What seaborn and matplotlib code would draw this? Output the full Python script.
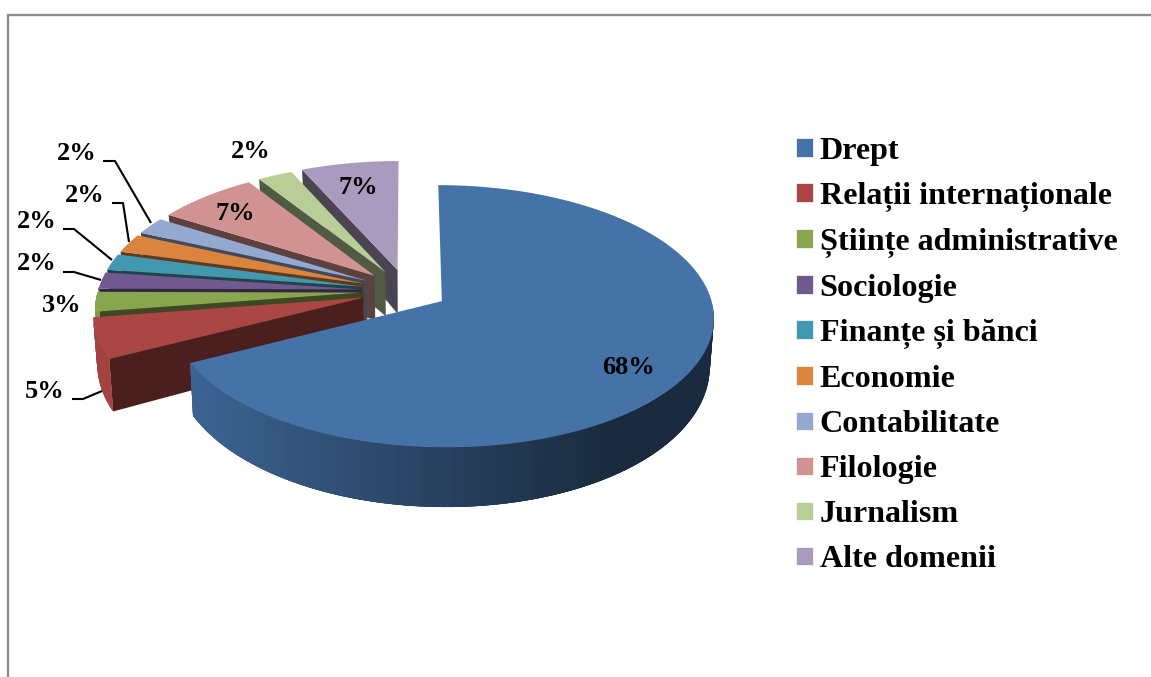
import numpy as np
import matplotlib
matplotlib.use("Agg")
import matplotlib.pyplot as plt
from matplotlib.patches import Patch
import seaborn as sns

# ---- data ----
categories = ["Drept", "Relații internaționale", "Științe administrative", "Sociologie",
              "Finanțe și bănci", "Economie", "Contabilitate", "Filologie", "Jurnalism",
              "Alte domenii"]
shares = [67.5, 5.1, 2.5, 2.1, 2.1, 2.4, 2.2, 7.0, 2.4, 6.7]
percent_labels = [68, 5, 3, 2, 2, 2, 2, 7, 2, 7]
colors_hex = ["#4572A7", "#AA4643", "#89A54E", "#71588F", "#4198AF",
              "#DB843D", "#93A9CF", "#D19392", "#B9CD96", "#A99BBD"]
explosion = [0.15, 0.17, 0.17, 0.17, 0.17, 0.17, 0.17, 0.17, 0.17, 0.17]
radius = [0.99, 0.985, 0.975, 0.975, 0.975, 0.975, 0.975, 0.975, 0.975, 0.98]

# ---- placement of the labels in pixel space ----
label_xy = [(629, 367), (45, 392), (62, 305), (37, 264), (37, 222),
            (85, 196), (77, 154), (235, 213), (251, 152), (358, 188)]
leaders = {1: [(72, 399), (83, 399), (102, 391)],
           3: [(63, 272), (74, 272), (101, 280)],
           4: [(63, 229), (74, 229), (112, 260)],
           5: [(112, 203), (123, 203), (129, 242)],
           6: [(103, 161), (115, 161), (151, 223)]}

sns.set_theme(style="white")
plt.rcParams["font.family"] = ["Liberation Serif", "DejaVu Serif"]
palette = sns.color_palette(colors_hex)

fig = plt.figure(figsize=(11.51, 6.77), dpi=100)
ax = fig.add_axes([0, 0, 1, 1])
ax.set_xlim(0, 1151)
ax.set_ylim(677, 0)
ax.axis("off")

# perspective pie projection
CX, CY, A, B, K = 407, 291, 270, 128.3, 0.115


def top(x, y):
    w = 1 + K * y
    return CX + A * x / w, CY - B * y / w


def base(x, y):
    sx, sy = top(x, y)
    return CX + (sx - CX) * 0.987, sy + 46 - 13 * y


def shade(c, f):
    return tuple(min(1, v * f) for v in c)


edges = np.concatenate([[0], np.cumsum(shares)]) / np.sum(shares) * 2 * np.pi
order = list(range(len(shares) - 1, 0, -1)) + [0]
for z, i in enumerate(order):
    t0, t1 = edges[i], edges[i + 1]
    mid = (t0 + t1) / 2
    ox, oy = explosion[i] * np.sin(mid), explosion[i] * np.cos(mid)
    th = np.linspace(t0, t1, 160)
    px, py = ox + radius[i] * np.sin(th), oy + radius[i] * np.cos(th)
    zb = z * 10
    # radial wall on the starting edge (not visible on the big slice)
    if i != 0:
        a_t, a_b = top(ox, oy), base(ox, oy)
        s_t, s_b = top(px[0], py[0]), base(px[0], py[0])
        ax.fill([a_t[0], s_t[0], s_b[0], a_b[0]], [a_t[1], s_t[1], s_b[1], a_b[1]],
                color=shade(palette[i], 0.44), lw=0, zorder=zb)
    # outer wall on the front half: overlapping strips painted one over the next
    front = np.where(np.cos(th) < 0.02)[0]
    for j in front:
        k = min(j + 4, len(th) - 1)
        if k == j:
            continue
        t_a, t_b = top(px[j], py[j]), top(px[k], py[k])
        b_a, b_b = base(px[j], py[j]), base(px[k], py[k])
        if i == 0:
            f = np.interp(t_a[0], [187, 610], [0.88, 0.38])
        else:
            f = 0.96
        ax.fill([t_a[0], t_b[0], b_b[0], b_a[0]], [t_a[1], t_b[1], b_b[1], b_a[1]],
                color=shade(palette[i], f), lw=0, zorder=zb + 1)
    # top surface
    tx, ty = top(np.r_[ox, px], np.r_[oy, py])
    ax.fill(tx, ty, color=palette[i], lw=0, zorder=zb + 2)

# value labels and leader lines
for i, (x, y) in enumerate(label_xy):
    ax.text(x, y, f"{percent_labels[i]}%", ha="center", va="center", fontsize=19,
            fontweight="bold", color="black", zorder=300)
for pts in leaders.values():
    ax.plot(*zip(*pts), color="black", lw=1.5, zorder=299, solid_capstyle="butt")

# outer frame (top and left only)
ax.plot([8, 8, 1151], [677, 15, 15], color="#8c8c8c", lw=1.7, zorder=1,
        solid_joinstyle="miter", clip_on=False)

# legend
handles = [Patch(facecolor=c, edgecolor="white", lw=0.5) for c in palette]
ax.legend(handles, categories, loc="upper left", bbox_to_anchor=(796 / 1151, 1 - 137 / 677),
          bbox_transform=fig.transFigure, frameon=False, borderpad=0, borderaxespad=0,
          prop={"family": "Liberation Serif", "weight": "bold", "size": 23.1},
          labelcolor="black",
          handlelength=0.52, handleheight=0.52, handletextpad=0.22, labelspacing=0.5)

fig.savefig("out.png", dpi=100, facecolor="white")
